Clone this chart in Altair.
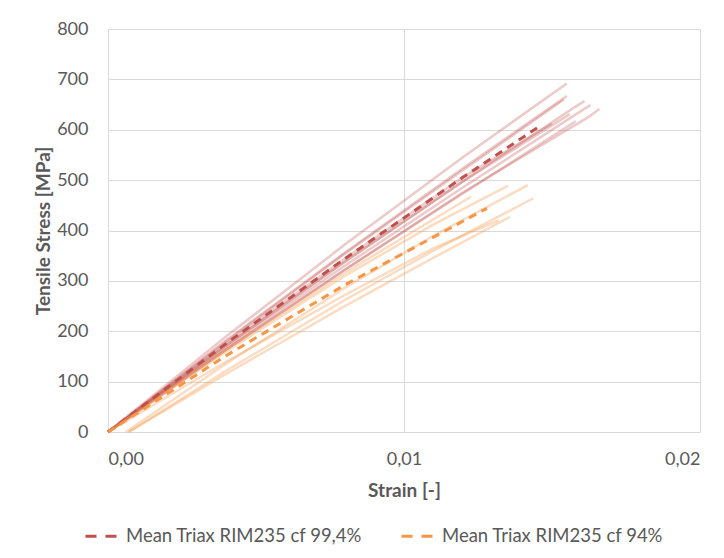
import altair as alt
import pandas as pd

# ---- data ----
series_names = ["Mean Triax RIM235 cf 99,4%", "Mean Triax RIM235 cf 94%"]
series_colors = ["#c0504d", "#f79646"]

mean_red_strain = [0, 0.004, 0.008, 0.012, 0.01453]
mean_red_stress = [0, 176, 344, 506, 605]
mean_orange_strain = [0, 0.004, 0.008, 0.0128]
mean_orange_stress = [0, 152, 292, 444]

red_1_strain = [0, 0.004, 0.008, 0.012, 0.0155]
red_1_stress = [0, 190, 372, 546, 692]
red_2_strain = [0, 0.004, 0.008, 0.012, 0.0155]
red_2_stress = [0, 182, 356, 524, 667]
red_3_strain = [0, 0.004, 0.008, 0.012, 0.0154]
red_3_stress = [0, 180, 354, 520, 660]
red_4_strain = [0, 0.004, 0.008, 0.012, 0.0158, 0.0161]
red_4_stress = [0, 172, 338, 498, 646, 657]
red_5_strain = [0, 0.004, 0.008, 0.012, 0.0160, 0.0163]
red_5_stress = [0, 168, 330, 486, 638, 649]
red_6_strain = [0, 0.004, 0.008, 0.012, 0.0162, 0.0166]
red_6_stress = [0, 164, 322, 476, 624, 641]
red_7_strain = [0, 0.004, 0.008, 0.012, 0.0158]
red_7_stress = [0, 164, 322, 474, 617]
red_8_strain = [0, 0.004, 0.008, 0.012, 0.0156]
red_8_stress = [0, 172, 338, 498, 631]
red_9_strain = [0, 0.004, 0.008, 0.012, 0.0150]
red_9_stress = [0, 176, 344, 506, 612]

orange_1_strain = [0, 0.004, 0.008, 0.011, 0.01352]
orange_1_stress = [0, 160, 310, 412, 489]
orange_2_strain = [0.0006, 0.004, 0.008, 0.011, 0.01418]
orange_2_stress = [0, 136, 286, 390, 490]
orange_3_strain = [0.0007, 0.004, 0.008, 0.011, 0.01437]
orange_3_stress = [0, 122, 262, 360, 464]
orange_4_strain = [0, 0.004, 0.008, 0.01226]
orange_4_stress = [0, 164, 316, 467]
orange_5_strain = [0.0007, 0.004, 0.008, 0.011, 0.01358]
orange_5_stress = [0, 116, 250, 346, 427]
orange_6_strain = [0, 0.004, 0.008, 0.011, 0.0132]
orange_6_stress = [0, 140, 272, 365, 420]

x_ticks = [0, 0.01, 0.02]
y_ticks = [0, 100, 200, 300, 400, 500, 600, 700, 800]

# ---- build tables ----
red_specimens = [
    (red_1_strain, red_1_stress), (red_2_strain, red_2_stress),
    (red_3_strain, red_3_stress), (red_4_strain, red_4_stress),
    (red_5_strain, red_5_stress), (red_6_strain, red_6_stress),
    (red_7_strain, red_7_stress), (red_8_strain, red_8_stress),
    (red_9_strain, red_9_stress),
]
orange_specimens = [
    (orange_1_strain, orange_1_stress), (orange_2_strain, orange_2_stress),
    (orange_3_strain, orange_3_stress), (orange_4_strain, orange_4_stress),
    (orange_5_strain, orange_5_stress), (orange_6_strain, orange_6_stress),
]


def specimens_frame(specs, prefix):
    rows = []
    for i, (xs, ys) in enumerate(specs):
        for j, (xv, yv) in enumerate(zip(xs, ys)):
            rows.append({"specimen": f"{prefix}{i}", "idx": j, "strain": xv, "stress": yv})
    return pd.DataFrame(rows)


red_df = specimens_frame(red_specimens, "r")
orange_df = specimens_frame(orange_specimens, "o")

mean_rows = []
for name, xs, ys in [
    (series_names[0], mean_red_strain, mean_red_stress),
    (series_names[1], mean_orange_strain, mean_orange_stress),
]:
    for j, (xv, yv) in enumerate(zip(xs, ys)):
        mean_rows.append({"series": name, "idx": j, "strain": xv, "stress": yv})
mean_df = pd.DataFrame(mean_rows)

FONT = "Lato"
GRAY = "#595959"

x_enc = alt.X(
    "strain:Q",
    scale=alt.Scale(domain=[0, 0.02], nice=False, zero=True),
    axis=alt.Axis(
        values=x_ticks,
        title="Strain [-]",
        labelExpr="replace(format(datum.value, '.2f'), '.', ',')",
        grid=True,
        domain=False,
        ticks=False,
        labelPadding=18,
        titlePadding=13,
    ),
)
y_enc = alt.Y(
    "stress:Q",
    scale=alt.Scale(domain=[0, 800], nice=False),
    axis=alt.Axis(
        values=y_ticks,
        title="Tensile Stress [MPa]",
        grid=True,
        domain=False,
        ticks=False,
        labelPadding=20,
        titlePadding=3,
    ),
)

red_layer = alt.Chart(red_df).mark_line(
    color="#c0504d", opacity=0.3, strokeWidth=2.5
).encode(x=x_enc, y=y_enc, detail="specimen:N", order="idx:Q")

orange_layer = alt.Chart(orange_df).mark_line(
    color="#f79646", opacity=0.33, strokeWidth=2.5
).encode(x=x_enc, y=y_enc, detail="specimen:N", order="idx:Q")

mean_layer = alt.Chart(mean_df).mark_line(
    strokeWidth=3, strokeDash=[8, 6]
).encode(
    x=x_enc,
    y=y_enc,
    order="idx:Q",
    color=alt.Color(
        "series:N",
        scale=alt.Scale(domain=series_names, range=series_colors),
        sort=series_names,
        legend=alt.Legend(
            orient="none",
            legendX=-24,
            legendY=490,
            direction="horizontal",
            title=None,
            symbolType="stroke",
            symbolSize=961,
            symbolStrokeWidth=3,
            symbolDash=[11, 9],
            labelFontSize=18.5,
            labelFont=FONT,
            labelColor=GRAY,
            labelLimit=400,
            labelOffset=8,
            columnPadding=32,
        ),
    ),
)

chart = (
    alt.layer(red_layer, orange_layer, mean_layer)
    .properties(
        width=592,
        height=403,
        autosize=alt.AutoSizeParams(type="none"),
        padding={"left": 100, "top": 21, "right": 16, "bottom": 120},
    )
    .configure_view(stroke=None)
    .configure_axis(
        gridColor="#d9d9d9",
        gridWidth=1,
        labelFont=FONT,
        labelFontSize=18,
        labelColor=GRAY,
        titleFont=FONT,
        titleFontSize=19,
        titleFontWeight="bold",
        titleColor=GRAY,
    )
)

chart.save("out.html", embed_options={"renderer": "svg", "actions": False})
